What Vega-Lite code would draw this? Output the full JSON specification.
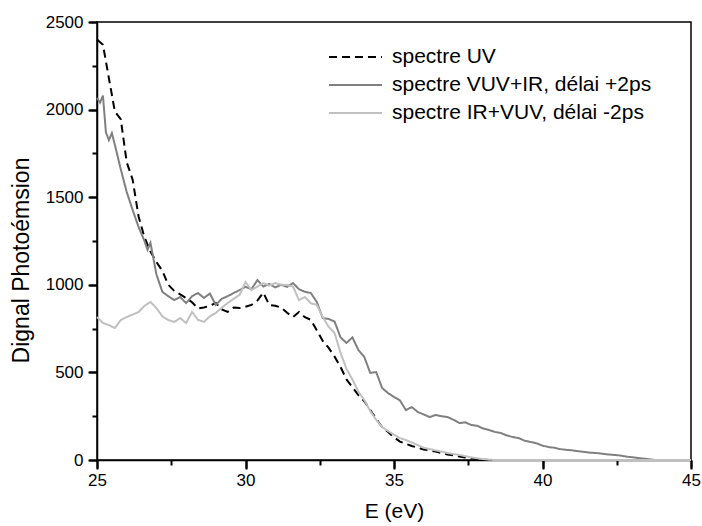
{
"$schema": "https://vega.github.io/schema/vega-lite/v6.json",
"width": 594, "height": 438,
"autosize": {"type": "none"},
"padding": {"left": 97, "top": 22, "right": 11, "bottom": 66},
"background": "white",
"config": {
  "font": "Liberation Sans",
  "view": {"stroke": "black", "strokeWidth": 1.5},
  "axis": {"grid": false, "ticks": true, "domainColor": "black", "domainWidth": 1.5, "tickColor": "#000000", "tickWidth": 2, "labelColor": "black", "labelFontSize": 17, "titleFontSize": 21, "titleFontWeight": "normal", "titleColor": "black", "labelFont": "Liberation Sans", "titleFont": "Liberation Sans"}
},
"data": {"values": [
{"s":"spectre UV","E":25.0,"v":2400},{"s":"spectre UV","E":25.2,"v":2370},{"s":"spectre UV","E":25.4,"v":2180},{"s":"spectre UV","E":25.6,"v":1990},{"s":"spectre UV","E":25.8,"v":1945},{"s":"spectre UV","E":26.0,"v":1700},{"s":"spectre UV","E":26.2,"v":1600},{"s":"spectre UV","E":26.4,"v":1390},{"s":"spectre UV","E":26.6,"v":1270},{"s":"spectre UV","E":26.8,"v":1190},{"s":"spectre UV","E":27.0,"v":1130},{"s":"spectre UV","E":27.2,"v":1080},{"s":"spectre UV","E":27.4,"v":1000},{"s":"spectre UV","E":27.6,"v":965},{"s":"spectre UV","E":27.8,"v":945},{"s":"spectre UV","E":28.0,"v":925},{"s":"spectre UV","E":28.2,"v":900},{"s":"spectre UV","E":28.4,"v":865},{"s":"spectre UV","E":28.6,"v":870},{"s":"spectre UV","E":28.8,"v":880},{"s":"spectre UV","E":29.0,"v":896},{"s":"spectre UV","E":29.2,"v":860},{"s":"spectre UV","E":29.4,"v":845},{"s":"spectre UV","E":29.6,"v":870},{"s":"spectre UV","E":29.8,"v":867},{"s":"spectre UV","E":30.0,"v":875},{"s":"spectre UV","E":30.2,"v":885},{"s":"spectre UV","E":30.4,"v":910},{"s":"spectre UV","E":30.6,"v":955},{"s":"spectre UV","E":30.8,"v":885},{"s":"spectre UV","E":31.0,"v":880},{"s":"spectre UV","E":31.2,"v":870},{"s":"spectre UV","E":31.4,"v":840},{"s":"spectre UV","E":31.6,"v":816},{"s":"spectre UV","E":31.8,"v":845},{"s":"spectre UV","E":32.0,"v":815},{"s":"spectre UV","E":32.2,"v":800},{"s":"spectre UV","E":32.4,"v":740},{"s":"spectre UV","E":32.6,"v":680},{"s":"spectre UV","E":32.8,"v":640},{"s":"spectre UV","E":33.0,"v":590},{"s":"spectre UV","E":33.2,"v":531},{"s":"spectre UV","E":33.4,"v":460},{"s":"spectre UV","E":33.6,"v":415},{"s":"spectre UV","E":33.8,"v":370},{"s":"spectre UV","E":34.0,"v":335},{"s":"spectre UV","E":34.2,"v":285},{"s":"spectre UV","E":34.4,"v":235},{"s":"spectre UV","E":34.6,"v":188},{"s":"spectre UV","E":34.8,"v":160},{"s":"spectre UV","E":35.0,"v":130},{"s":"spectre UV","E":35.2,"v":105},{"s":"spectre UV","E":35.4,"v":92},{"s":"spectre UV","E":35.6,"v":80},{"s":"spectre UV","E":35.8,"v":70},{"s":"spectre UV","E":36.0,"v":60},{"s":"spectre UV","E":36.2,"v":55},{"s":"spectre UV","E":36.4,"v":48},{"s":"spectre UV","E":36.6,"v":40},{"s":"spectre UV","E":36.8,"v":32},{"s":"spectre UV","E":37.0,"v":27},{"s":"spectre UV","E":37.2,"v":20},{"s":"spectre UV","E":37.4,"v":14},{"s":"spectre UV","E":37.6,"v":9},{"s":"spectre UV","E":37.8,"v":5},{"s":"spectre UV","E":38.0,"v":2},{"s":"spectre UV","E":38.2,"v":0},{"s":"spectre UV","E":39.0,"v":0},{"s":"spectre UV","E":42.0,"v":0},{"s":"spectre UV","E":45.0,"v":0},
{"s":"spectre VUV+IR, délai +2ps","E":25.0,"v":2066},{"s":"spectre VUV+IR, délai +2ps","E":25.1,"v":2040},{"s":"spectre VUV+IR, délai +2ps","E":25.2,"v":2080},{"s":"spectre VUV+IR, délai +2ps","E":25.3,"v":1870},{"s":"spectre VUV+IR, délai +2ps","E":25.4,"v":1826},{"s":"spectre VUV+IR, délai +2ps","E":25.5,"v":1866},{"s":"spectre VUV+IR, délai +2ps","E":25.6,"v":1800},{"s":"spectre VUV+IR, délai +2ps","E":25.8,"v":1660},{"s":"spectre VUV+IR, délai +2ps","E":26.0,"v":1530},{"s":"spectre VUV+IR, délai +2ps","E":26.2,"v":1427},{"s":"spectre VUV+IR, délai +2ps","E":26.4,"v":1330},{"s":"spectre VUV+IR, délai +2ps","E":26.6,"v":1250},{"s":"spectre VUV+IR, délai +2ps","E":26.7,"v":1200},{"s":"spectre VUV+IR, délai +2ps","E":26.8,"v":1240},{"s":"spectre VUV+IR, délai +2ps","E":27.0,"v":1060},{"s":"spectre VUV+IR, délai +2ps","E":27.2,"v":960},{"s":"spectre VUV+IR, délai +2ps","E":27.4,"v":935},{"s":"spectre VUV+IR, délai +2ps","E":27.6,"v":913},{"s":"spectre VUV+IR, délai +2ps","E":27.8,"v":930},{"s":"spectre VUV+IR, délai +2ps","E":28.0,"v":896},{"s":"spectre VUV+IR, délai +2ps","E":28.2,"v":935},{"s":"spectre VUV+IR, délai +2ps","E":28.4,"v":953},{"s":"spectre VUV+IR, délai +2ps","E":28.6,"v":925},{"s":"spectre VUV+IR, délai +2ps","E":28.8,"v":950},{"s":"spectre VUV+IR, délai +2ps","E":29.0,"v":885},{"s":"spectre VUV+IR, délai +2ps","E":29.2,"v":920},{"s":"spectre VUV+IR, délai +2ps","E":29.4,"v":935},{"s":"spectre VUV+IR, délai +2ps","E":29.6,"v":953},{"s":"spectre VUV+IR, délai +2ps","E":29.8,"v":970},{"s":"spectre VUV+IR, délai +2ps","E":30.0,"v":988},{"s":"spectre VUV+IR, délai +2ps","E":30.2,"v":975},{"s":"spectre VUV+IR, délai +2ps","E":30.4,"v":1027},{"s":"spectre VUV+IR, délai +2ps","E":30.6,"v":990},{"s":"spectre VUV+IR, délai +2ps","E":30.8,"v":1005},{"s":"spectre VUV+IR, délai +2ps","E":31.0,"v":985},{"s":"spectre VUV+IR, délai +2ps","E":31.2,"v":1000},{"s":"spectre VUV+IR, délai +2ps","E":31.4,"v":988},{"s":"spectre VUV+IR, délai +2ps","E":31.6,"v":1010},{"s":"spectre VUV+IR, délai +2ps","E":31.8,"v":975},{"s":"spectre VUV+IR, délai +2ps","E":32.0,"v":960},{"s":"spectre VUV+IR, délai +2ps","E":32.2,"v":953},{"s":"spectre VUV+IR, délai +2ps","E":32.4,"v":902},{"s":"spectre VUV+IR, délai +2ps","E":32.6,"v":810},{"s":"spectre VUV+IR, délai +2ps","E":32.8,"v":805},{"s":"spectre VUV+IR, délai +2ps","E":33.0,"v":790},{"s":"spectre VUV+IR, délai +2ps","E":33.2,"v":700},{"s":"spectre VUV+IR, délai +2ps","E":33.4,"v":668},{"s":"spectre VUV+IR, délai +2ps","E":33.6,"v":700},{"s":"spectre VUV+IR, délai +2ps","E":33.8,"v":628},{"s":"spectre VUV+IR, délai +2ps","E":34.0,"v":588},{"s":"spectre VUV+IR, délai +2ps","E":34.2,"v":497},{"s":"spectre VUV+IR, délai +2ps","E":34.4,"v":502},{"s":"spectre VUV+IR, délai +2ps","E":34.6,"v":411},{"s":"spectre VUV+IR, délai +2ps","E":34.8,"v":382},{"s":"spectre VUV+IR, délai +2ps","E":35.0,"v":360},{"s":"spectre VUV+IR, délai +2ps","E":35.2,"v":340},{"s":"spectre VUV+IR, délai +2ps","E":35.4,"v":285},{"s":"spectre VUV+IR, délai +2ps","E":35.6,"v":302},{"s":"spectre VUV+IR, délai +2ps","E":35.8,"v":274},{"s":"spectre VUV+IR, délai +2ps","E":36.0,"v":260},{"s":"spectre VUV+IR, délai +2ps","E":36.2,"v":245},{"s":"spectre VUV+IR, délai +2ps","E":36.4,"v":257},{"s":"spectre VUV+IR, délai +2ps","E":36.6,"v":250},{"s":"spectre VUV+IR, délai +2ps","E":36.8,"v":245},{"s":"spectre VUV+IR, délai +2ps","E":37.0,"v":230},{"s":"spectre VUV+IR, délai +2ps","E":37.2,"v":211},{"s":"spectre VUV+IR, délai +2ps","E":37.4,"v":215},{"s":"spectre VUV+IR, délai +2ps","E":37.6,"v":200},{"s":"spectre VUV+IR, délai +2ps","E":37.8,"v":195},{"s":"spectre VUV+IR, délai +2ps","E":38.0,"v":180},{"s":"spectre VUV+IR, délai +2ps","E":38.2,"v":171},{"s":"spectre VUV+IR, délai +2ps","E":38.4,"v":160},{"s":"spectre VUV+IR, délai +2ps","E":38.6,"v":154},{"s":"spectre VUV+IR, délai +2ps","E":38.8,"v":140},{"s":"spectre VUV+IR, délai +2ps","E":39.0,"v":131},{"s":"spectre VUV+IR, délai +2ps","E":39.2,"v":125},{"s":"spectre VUV+IR, délai +2ps","E":39.4,"v":110},{"s":"spectre VUV+IR, délai +2ps","E":39.6,"v":103},{"s":"spectre VUV+IR, délai +2ps","E":39.8,"v":95},{"s":"spectre VUV+IR, délai +2ps","E":40.0,"v":82},{"s":"spectre VUV+IR, délai +2ps","E":40.2,"v":74},{"s":"spectre VUV+IR, délai +2ps","E":40.4,"v":70},{"s":"spectre VUV+IR, délai +2ps","E":40.6,"v":62},{"s":"spectre VUV+IR, délai +2ps","E":40.8,"v":58},{"s":"spectre VUV+IR, délai +2ps","E":41.0,"v":55},{"s":"spectre VUV+IR, délai +2ps","E":41.2,"v":50},{"s":"spectre VUV+IR, délai +2ps","E":41.4,"v":46},{"s":"spectre VUV+IR, délai +2ps","E":41.6,"v":42},{"s":"spectre VUV+IR, délai +2ps","E":41.8,"v":40},{"s":"spectre VUV+IR, délai +2ps","E":42.0,"v":36},{"s":"spectre VUV+IR, délai +2ps","E":42.2,"v":32},{"s":"spectre VUV+IR, délai +2ps","E":42.4,"v":29},{"s":"spectre VUV+IR, délai +2ps","E":42.6,"v":26},{"s":"spectre VUV+IR, délai +2ps","E":42.8,"v":20},{"s":"spectre VUV+IR, délai +2ps","E":43.0,"v":16},{"s":"spectre VUV+IR, délai +2ps","E":43.2,"v":12},{"s":"spectre VUV+IR, délai +2ps","E":43.4,"v":8},{"s":"spectre VUV+IR, délai +2ps","E":43.6,"v":4},{"s":"spectre VUV+IR, délai +2ps","E":43.8,"v":0},{"s":"spectre VUV+IR, délai +2ps","E":45.0,"v":0},
{"s":"spectre IR+VUV, délai -2ps","E":25.0,"v":816},{"s":"spectre IR+VUV, délai -2ps","E":25.2,"v":782},{"s":"spectre IR+VUV, délai -2ps","E":25.4,"v":770},{"s":"spectre IR+VUV, délai -2ps","E":25.6,"v":753},{"s":"spectre IR+VUV, délai -2ps","E":25.8,"v":799},{"s":"spectre IR+VUV, délai -2ps","E":26.0,"v":816},{"s":"spectre IR+VUV, délai -2ps","E":26.2,"v":830},{"s":"spectre IR+VUV, délai -2ps","E":26.4,"v":845},{"s":"spectre IR+VUV, délai -2ps","E":26.6,"v":880},{"s":"spectre IR+VUV, délai -2ps","E":26.8,"v":902},{"s":"spectre IR+VUV, délai -2ps","E":27.0,"v":867},{"s":"spectre IR+VUV, délai -2ps","E":27.2,"v":820},{"s":"spectre IR+VUV, délai -2ps","E":27.4,"v":799},{"s":"spectre IR+VUV, délai -2ps","E":27.6,"v":788},{"s":"spectre IR+VUV, délai -2ps","E":27.8,"v":810},{"s":"spectre IR+VUV, délai -2ps","E":28.0,"v":782},{"s":"spectre IR+VUV, délai -2ps","E":28.2,"v":845},{"s":"spectre IR+VUV, délai -2ps","E":28.4,"v":800},{"s":"spectre IR+VUV, délai -2ps","E":28.6,"v":788},{"s":"spectre IR+VUV, délai -2ps","E":28.8,"v":820},{"s":"spectre IR+VUV, délai -2ps","E":29.0,"v":839},{"s":"spectre IR+VUV, délai -2ps","E":29.2,"v":870},{"s":"spectre IR+VUV, délai -2ps","E":29.4,"v":896},{"s":"spectre IR+VUV, délai -2ps","E":29.6,"v":920},{"s":"spectre IR+VUV, délai -2ps","E":29.8,"v":942},{"s":"spectre IR+VUV, délai -2ps","E":30.0,"v":1016},{"s":"spectre IR+VUV, délai -2ps","E":30.2,"v":970},{"s":"spectre IR+VUV, délai -2ps","E":30.4,"v":990},{"s":"spectre IR+VUV, délai -2ps","E":30.6,"v":1010},{"s":"spectre IR+VUV, délai -2ps","E":30.8,"v":995},{"s":"spectre IR+VUV, délai -2ps","E":31.0,"v":1010},{"s":"spectre IR+VUV, délai -2ps","E":31.2,"v":1000},{"s":"spectre IR+VUV, délai -2ps","E":31.4,"v":999},{"s":"spectre IR+VUV, délai -2ps","E":31.6,"v":990},{"s":"spectre IR+VUV, délai -2ps","E":31.8,"v":913},{"s":"spectre IR+VUV, délai -2ps","E":32.0,"v":930},{"s":"spectre IR+VUV, délai -2ps","E":32.2,"v":895},{"s":"spectre IR+VUV, délai -2ps","E":32.4,"v":885},{"s":"spectre IR+VUV, délai -2ps","E":32.6,"v":816},{"s":"spectre IR+VUV, délai -2ps","E":32.8,"v":760},{"s":"spectre IR+VUV, délai -2ps","E":33.0,"v":725},{"s":"spectre IR+VUV, délai -2ps","E":33.2,"v":611},{"s":"spectre IR+VUV, délai -2ps","E":33.4,"v":520},{"s":"spectre IR+VUV, délai -2ps","E":33.6,"v":460},{"s":"spectre IR+VUV, délai -2ps","E":33.8,"v":390},{"s":"spectre IR+VUV, délai -2ps","E":34.0,"v":342},{"s":"spectre IR+VUV, délai -2ps","E":34.2,"v":280},{"s":"spectre IR+VUV, délai -2ps","E":34.4,"v":230},{"s":"spectre IR+VUV, délai -2ps","E":34.6,"v":188},{"s":"spectre IR+VUV, délai -2ps","E":34.8,"v":165},{"s":"spectre IR+VUV, délai -2ps","E":35.0,"v":145},{"s":"spectre IR+VUV, délai -2ps","E":35.2,"v":125},{"s":"spectre IR+VUV, délai -2ps","E":35.4,"v":114},{"s":"spectre IR+VUV, délai -2ps","E":35.6,"v":100},{"s":"spectre IR+VUV, délai -2ps","E":35.8,"v":85},{"s":"spectre IR+VUV, délai -2ps","E":36.0,"v":70},{"s":"spectre IR+VUV, délai -2ps","E":36.2,"v":62},{"s":"spectre IR+VUV, délai -2ps","E":36.4,"v":55},{"s":"spectre IR+VUV, délai -2ps","E":36.6,"v":48},{"s":"spectre IR+VUV, délai -2ps","E":36.8,"v":40},{"s":"spectre IR+VUV, délai -2ps","E":37.0,"v":34},{"s":"spectre IR+VUV, délai -2ps","E":37.2,"v":29},{"s":"spectre IR+VUV, délai -2ps","E":37.4,"v":22},{"s":"spectre IR+VUV, délai -2ps","E":37.6,"v":15},{"s":"spectre IR+VUV, délai -2ps","E":37.8,"v":10},{"s":"spectre IR+VUV, délai -2ps","E":38.0,"v":5},{"s":"spectre IR+VUV, délai -2ps","E":38.2,"v":2},{"s":"spectre IR+VUV, délai -2ps","E":38.4,"v":0},{"s":"spectre IR+VUV, délai -2ps","E":39.0,"v":0},{"s":"spectre IR+VUV, délai -2ps","E":42.0,"v":0},{"s":"spectre IR+VUV, délai -2ps","E":45.0,"v":0}
]},
"layer": [
  {
    "mark": {"type": "line", "strokeWidth": 2},
    "encoding": {
      "x": {"field": "E", "type": "quantitative", "scale": {"domain": [25, 45], "nice": false, "zero": false},
            "axis": {"values": [25, 30, 35, 40, 45], "format": "d", "title": "E (eV)", "ticks": true, "tickSize": 8, "labelPadding": 4, "titleX": 297, "titleY": 40, "labelFlush": false, "labelOverlap": false}},
      "y": {"field": "v", "type": "quantitative", "scale": {"domain": [0, 2500], "nice": false},
            "axis": {"values": [0, 500, 1000, 1500, 2000, 2500], "format": "d", "title": "Dignal Photoémsion", "titleFontSize": 23, "ticks": true, "tickSize": 8, "labelPadding": 6, "titleX": -64, "titleY": 238, "labelFlush": false, "labelOverlap": false}},
      "color": {"field": "s", "type": "nominal", "title": null,
                "scale": {"domain": ["spectre UV", "spectre VUV+IR, délai +2ps", "spectre IR+VUV, délai -2ps"], "range": ["#000000", "#808080", "#c0c0c0"]},
                "legend": {"orient": "none", "legendX": 247.5, "legendY": 24, "symbolType": "M-2.65,0H2.65", "symbolSize": 400, "symbolStrokeWidth": 2, "labelFontSize": 21, "labelColor": "black", "labelOffset": 25.5, "labelLimit": 400, "rowPadding": 7}},
      "strokeDash": {"field": "s", "type": "nominal", "title": null,
                "scale": {"domain": ["spectre UV", "spectre VUV+IR, délai +2ps", "spectre IR+VUV, délai -2ps"], "range": [[8, 5], [1, 0], [1, 0]]},
                "legend": {"orient": "none", "legendX": 247.5, "legendY": 24, "symbolType": "M-2.65,0H2.65", "symbolSize": 400, "symbolStrokeWidth": 2, "labelFontSize": 21, "labelColor": "black", "labelOffset": 25.5, "labelLimit": 400, "rowPadding": 7}}
    }
  },
  {
    "mark": {"type": "line", "strokeOpacity": 0},
    "encoding": {
      "x": {"field": "E", "type": "quantitative", "axis": {"orient": "bottom", "values": [25, 30, 35, 40, 45], "labels": false, "domain": false, "ticks": true, "tickSize": 9, "tickColor": "#000000", "tickWidth": 2, "title": null}},
      "y": {"field": "v", "type": "quantitative", "axis": {"orient": "left", "values": [0, 500, 1000, 1500, 2000, 2500], "labels": false, "domain": false, "ticks": true, "tickSize": 9, "tickColor": "#000000", "tickWidth": 2, "title": null}},
      "detail": {"field": "s", "type": "nominal"}
    }
  },
  {
    "mark": {"type": "line", "strokeOpacity": 0},
    "encoding": {
      "x": {"field": "E", "type": "quantitative", "axis": {"orient": "bottom", "values": [27.5, 32.5, 37.5, 42.5], "labels": false, "domain": false, "ticks": true, "tickSize": 5, "tickColor": "#000000", "tickWidth": 2, "title": null}},
      "y": {"field": "v", "type": "quantitative", "axis": {"orient": "left", "values": [250, 750, 1250, 1750, 2250], "labels": false, "domain": false, "ticks": true, "tickSize": 5, "tickColor": "#000000", "tickWidth": 2, "title": null}},
      "detail": {"field": "s", "type": "nominal"}
    }
  }
],
"resolve": {"axis": {"x": "independent", "y": "independent"}}
}
